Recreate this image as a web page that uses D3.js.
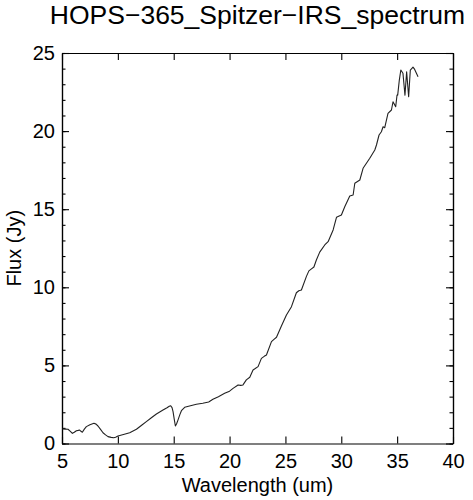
<!DOCTYPE html>
<html>
<head>
<meta charset="utf-8">
<script src="https://cdn.jsdelivr.net/npm/d3@7"></script>
<style>
    body { margin: 0; background: #fff; }
    svg text { font-family: "Liberation Sans", Arial, Helvetica, sans-serif; fill: #000; }
</style>
</head>
<body>
<div id="graph"></div>
<script>
// Spectrum values (wavelength in um, flux in Jy)
var wavelength = [
    5.03, 5.3, 5.54, 5.75, 5.93, 6.1, 6.29, 6.45, 6.58, 6.7, 6.82, 7.0, 7.18, 7.5,
    7.86, 8.05, 8.22, 8.45, 8.67, 8.9, 9.12, 9.4, 9.63, 9.8, 10.01, 10.5, 11.06,
    11.66, 12.1, 12.55, 13.0, 13.45, 14.04, 14.4, 14.6, 14.73, 14.85, 14.94, 15.05,
    15.15, 15.25, 15.38, 15.55, 15.69, 15.98, 16.5, 17.03, 17.6, 18.13, 18.51,
    19.0, 19.56, 20.0, 20.31, 20.76, 21.0, 21.2, 21.5, 21.81, 22.1, 22.3, 22.55,
    22.85, 23.1, 23.3, 23.75, 24.0, 24.2, 24.64, 25.09, 25.54, 25.98, 26.2, 26.43,
    26.88, 27.1, 27.33, 27.55, 27.77, 28.07, 28.52, 28.82, 29.27, 29.57, 30.01,
    30.31, 30.76, 31.06, 31.21, 31.66, 31.95, 32.55, 33.0, 33.15, 33.38, 33.59,
    33.74, 33.89, 34.18, 34.49, 34.63, 34.87, 34.99, 35.05, 35.2, 35.33, 35.52,
    35.7, 35.85, 36.03, 36.18, 36.42, 36.57, 36.87
];
var flux = [
    0.93, 0.92, 0.91, 0.78, 0.65, 0.72, 0.82, 0.84, 0.86, 0.78, 0.72, 0.92, 1.08, 1.2,
    1.29, 1.24, 1.12, 0.9, 0.69, 0.55, 0.44, 0.39, 0.37, 0.4, 0.48, 0.58, 0.69,
    0.91, 1.15, 1.4, 1.65, 1.89, 2.14, 2.29, 2.38, 2.42, 2.3, 2.04, 1.55,
    1.12, 1.25, 1.5, 1.85, 2.1, 2.32, 2.42, 2.51, 2.58, 2.66, 2.83,
    3.0, 3.21, 3.35, 3.53, 3.75, 3.72, 3.75, 4.07, 4.24, 4.71, 4.8, 4.92,
    5.45, 5.58, 5.67, 6.52, 6.68, 6.8, 7.52, 8.23, 8.76, 9.65, 9.78, 9.83,
    10.7, 11.05, 11.18, 11.3, 11.75, 12.25, 12.71, 12.92, 13.67, 14.48, 14.63,
    15.16, 15.85, 15.91, 16.66, 16.87, 17.62, 18.26, 18.79, 19.11, 19.75, 19.96,
    20.28, 20.22, 21.14, 21.35, 21.88, 21.56, 22.31, 22.3, 23.3, 23.91, 23.7,
    22.3, 23.8, 22.2, 23.91, 24.1, 23.95, 23.48
];

// Axis ticks
var xTicks = [5, 10, 15, 20, 25, 30, 35, 40];
var yTicks = [0, 5, 10, 15, 20, 25];
var yMinorTicks = d3.range(0, 26, 1);

var chartTitle = 'HOPS\u2212365_Spitzer\u2212IRS_spectrum';
var xTitle = 'Wavelength (um)';
var yTitle = 'Flux (Jy)';

window.onload = start;

function start() {
    var graph = document.getElementById('graph');
    var width = 473;
    var height = 500;

    // plot box in pixels
    var left = 62, right = 453, top = 53, bottom = 443.5;

    var svg = d3.select(graph)
        .append('svg')
        .attr('width', width)
        .attr('height', height);

    var xScale = d3.scaleLinear().domain([5, 40]).range([left, right]);
    var yScale = d3.scaleLinear().domain([0, 25]).range([bottom, top]);

    var points = wavelength.map(function(w, i) {
        return { w: w, f: flux[i] };
    });

    // IDL style: ticks point into the plot, labels only on bottom and left
    svg.append('g')
        .attr('transform', 'translate(0,' + bottom + ')')
        .call(d3.axisBottom(xScale).tickValues(xTicks).tickSize(-7).tickSizeOuter(0).tickPadding(10))
        .call(styleAxis);

    svg.append('g')
        .attr('transform', 'translate(0,' + top + ')')
        .call(d3.axisTop(xScale).tickValues(xTicks).tickSize(-7).tickSizeOuter(0).tickFormat(''))
        .call(styleAxis);

    svg.append('g')
        .attr('transform', 'translate(' + left + ',0)')
        .call(d3.axisLeft(yScale).tickValues(yMinorTicks).tickSize(-3.5).tickSizeOuter(0).tickFormat(''))
        .call(styleAxis);

    svg.append('g')
        .attr('transform', 'translate(' + left + ',0)')
        .call(d3.axisLeft(yScale).tickValues(yTicks).tickSize(-7).tickSizeOuter(0).tickPadding(7))
        .call(styleAxis);

    svg.append('g')
        .attr('transform', 'translate(' + right + ',0)')
        .call(d3.axisRight(yScale).tickValues(yMinorTicks).tickSize(-3.5).tickSizeOuter(0).tickFormat(''))
        .call(styleAxis);

    svg.append('g')
        .attr('transform', 'translate(' + right + ',0)')
        .call(d3.axisRight(yScale).tickValues(yTicks).tickSize(-7).tickSizeOuter(0).tickFormat(''))
        .call(styleAxis);

    // the spectrum
    var line = d3.line()
        .x(function(d) { return xScale(d.w); })
        .y(function(d) { return yScale(d.f); });

    svg.append('path')
        .datum(points)
        .attr('fill', 'none')
        .attr('stroke', '#222')
        .attr('stroke-width', 1.1)
        .attr('stroke-linejoin', 'round')
        .attr('d', line);

    // titles
    svg.append('text')
        .attr('x', (left + right) / 2)
        .attr('y', 24)
        .attr('text-anchor', 'middle')
        .style('font-size', '26.5px')
        .text(chartTitle);

    svg.append('text')
        .attr('x', (left + right) / 2)
        .attr('y', 492)
        .attr('text-anchor', 'middle')
        .style('font-size', '20px')
        .text(xTitle);

    svg.append('text')
        .attr('transform', 'translate(20.5,' + ((top + bottom) / 2) + ') rotate(-90)')
        .attr('text-anchor', 'middle')
        .style('font-size', '20px')
        .text(yTitle);
}

function styleAxis(g) {
    g.selectAll('.domain').attr('stroke', '#000').attr('stroke-width', 1.2);
    g.selectAll('.tick line').attr('stroke', '#000').attr('stroke-width', 1.1);
    g.selectAll('.tick text')
        .style('font-size', '20px')
        .style('font-family', '"Liberation Sans", Arial, Helvetica, sans-serif')
        .attr('fill', '#000');
}
</script>
</body>
</html>
